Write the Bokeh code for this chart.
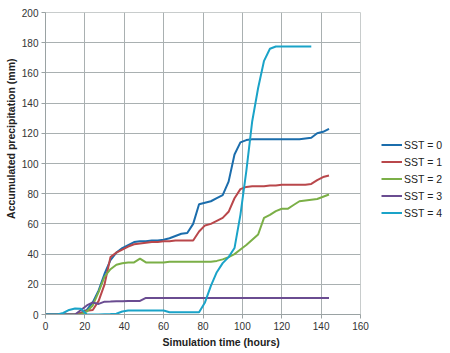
from bokeh.plotting import figure
from bokeh.models import Legend, LegendItem, FixedTicker, Title
from bokeh.embed import file_html
from bokeh.resources import INLINE

t = [0, 3, 6, 9, 12, 15, 18, 21, 24, 27, 30, 33, 36, 39, 42, 45, 48, 51, 54, 57, 60,
     63, 66, 69, 72, 75, 78, 81, 84, 87, 90, 93, 96, 99, 102, 105, 108, 111, 114, 117,
     120, 123, 126, 129, 132, 135, 138, 141, 144]

sst0 = [0, 0, 0, 0, 0, 0, 1, 3, 8, 16, 27, 36, 41, 44, 46, 48, 48.5, 48.5, 49, 49, 49.5,
        50.5, 52, 53.5, 54, 60, 73, 74, 75, 77, 79, 88, 106, 114, 115.5, 116, 116, 116, 116, 116,
        116, 116, 116, 116, 116.5, 117, 120, 121, 123]
sst1 = [0, 0, 0, 0, 0, 0, 1, 2.5, 3, 9, 20, 38, 41, 43, 45, 46.5, 47, 47.5, 48, 48, 48.5,
        48.5, 49, 49, 49, 49, 55, 59, 60, 62, 64, 68, 77, 83, 84.5, 85, 85, 85, 85.5, 85.5,
        86, 86, 86, 86, 86, 86.5, 89, 91, 92]
sst2 = [0, 0, 0, 0, 0, 0, 0, 2, 6, 15, 25, 30, 33, 34, 34.5, 34.5, 37, 34.5, 34.5, 34.5, 34.5,
        35, 35, 35, 35, 35, 35, 35, 35, 35.5, 36.5, 38, 40, 43, 46, 49.5, 53, 64, 66, 68.5,
        70, 70, 72.5, 75, 75.5, 76, 76.5, 78, 79.5]
sst3 = [0, 0, 0, 0, 0, 0, 3, 6, 8, 7, 8.5, 8.6, 8.8, 8.8, 8.9, 8.9, 9, 11, 11, 11, 11,
        11, 11, 11, 11, 11, 11, 11, 11, 11, 11, 11, 11, 11, 11, 11, 11, 11, 11, 11,
        11, 11, 11, 11, 11, 11, 11, 11, 11]
sst4 = [0, 0, 0, 1, 3, 4, 3.8, 0, 0, 0, 0.2, 0.3, 0.5, 2, 2.6, 2.6, 2.6, 2.6, 2.6, 2.6, 2.6,
        1.5, 1.5, 1.5, 1.5, 1.5, 1.5, 8, 19, 28, 34, 38, 44, 66, 95, 128, 150, 168, 176, 177.5,
        177.5, 177.5, 177.5, 177.5, 177.5, 177.5, None, None, None]

labels = ["SST = 0", "SST = 1", "SST = 2", "SST = 3", "SST = 4"]
colors = ["#1B6DAC", "#B9474B", "#7BAF47", "#6A4C91", "#1AA3C8"]
series = [sst0, sst1, sst2, sst3, sst4]

x_ticks = [0, 20, 40, 60, 80, 100, 120, 140, 160]
y_ticks = [0, 20, 40, 60, 80, 100, 120, 140, 160, 180, 200]

FONT = "Liberation Sans"

p = figure(width=450, height=353, frame_width=315, frame_height=302,
           output_backend="svg", toolbar_location=None,
           x_range=(0, 160), y_range=(0, 200),
           min_border_left=45, min_border_right=0, min_border_top=12, min_border_bottom=39)
p.background_fill_color = "white"
p.border_fill_color = "white"
p.outline_line_color = "#C8CCCC"

items = []
for lab, col, ys in zip(labels, colors, series):
    xs = [tt for tt, v in zip(t, ys) if v is not None]
    vs = [v for v in ys if v is not None]
    r = p.line(xs, vs, line_color=col, line_width=2)
    items.append(LegendItem(label=lab, renderers=[r]))

for ax in (p.xaxis, p.yaxis):
    ax.axis_line_color = "#9AA2A3"
    ax.major_tick_line_color = "#9AA2A3"
    ax.major_tick_in = 0
    ax.major_tick_out = 4
    ax.minor_tick_line_color = None
    ax.major_label_text_font = FONT
    ax.major_label_text_font_size = "10px"
    ax.major_label_text_color = "#333333"

p.xaxis.ticker = FixedTicker(ticks=x_ticks)
p.yaxis.ticker = FixedTicker(ticks=y_ticks)
p.xaxis.major_label_standoff = 3
p.yaxis.major_label_standoff = 3

ytitle = Title(text="Accumulated precipitation (mm)", align="right", offset=46,
               text_font=FONT, text_font_size="10.5px", text_font_style="bold",
               text_color="#222222", standoff=4)
p.add_layout(ytitle, "left")

xtitle = Title(text="Simulation time (hours)", align="left", offset=117,
               text_font=FONT, text_font_size="10.5px", text_font_style="bold",
               text_color="#222222", standoff=2)
p.add_layout(xtitle, "below")

p.xgrid.grid_line_color = "#A9B0B1"
p.ygrid.grid_line_color = "#A9B0B1"
p.xgrid.ticker = FixedTicker(ticks=x_ticks)
p.ygrid.ticker = FixedTicker(ticks=y_ticks)

legend = Legend(items=items, location="center_left", orientation="vertical",
                title=" ", title_text_font_size="10px", title_standoff=20,
                border_line_color=None, background_fill_alpha=0,
                padding=0, margin=21, spacing=0,
                glyph_width=21, glyph_height=17, label_standoff=2,
                label_text_font=FONT, label_text_font_size="10.5px",
                label_text_color="#222222", label_height=17)
p.add_layout(legend, "right")

open("out.html", "w").write(file_html(p, INLINE))
